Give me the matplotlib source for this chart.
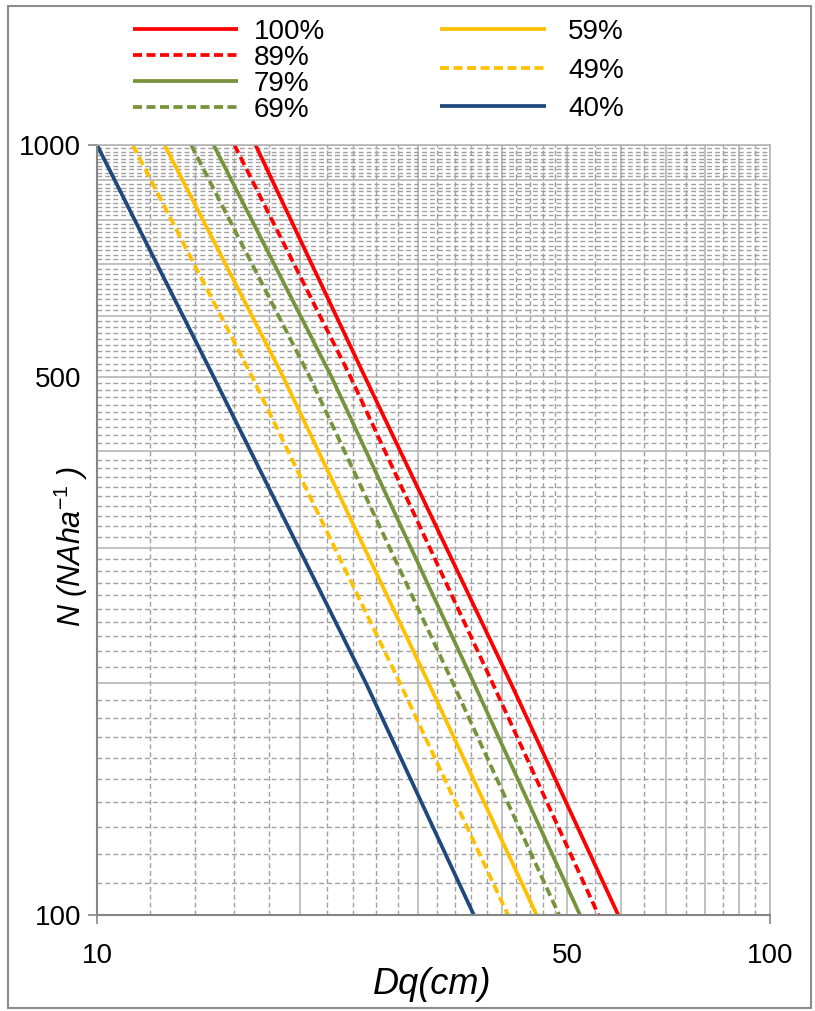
import numpy as np
import matplotlib
matplotlib.use("Agg")
import matplotlib.pyplot as plt
from matplotlib.patches import Rectangle
from matplotlib.ticker import NullFormatter

plt.rcParams['font.family'] = ['Liberation Sans', 'DejaVu Sans']
plt.rcParams['mathtext.fontset'] = 'custom'
plt.rcParams['mathtext.it'] = 'Liberation Sans:italic'
plt.rcParams['mathtext.rm'] = 'Liberation Sans'
plt.rcParams['mathtext.default'] = 'it'

# stand density N (trees/ha) where each curve was read
n_levels = [1000, 500, 200, 100]

# quadratic mean diameter (cm) of each density-index curve at those N
dq_100 = [17.2, 25.0, 41.2, 59.5]
dq_89 = [16.0, 23.8, 38.7, 55.6]
dq_79 = [14.9, 22.3, 36.3, 52.2]
dq_69 = [13.8, 20.7, 33.8, 48.6]
dq_59 = [12.6, 18.9, 31.1, 45.0]
dq_49 = [11.3, 17.0, 28.2, 40.8]
dq_40 = [10.0, 14.9, 25.1, 36.3]

labels = ["100%", "89%", "79%", "69%", "59%", "49%", "40%"]
colors = ["#FF0000", "#FF0000", "#77933C", "#77933C", "#FFC000", "#FFC000", "#1F497D"]
dashed = [False, True, False, True, False, True, False]
series = [dq_100, dq_89, dq_79, dq_69, dq_59, dq_49, dq_40]

x_major = [10, 20, 30, 40, 50, 60, 70, 80, 90, 100]
x_minor = [12, 14, 16, 18, 22, 24, 26, 28, 32, 34, 36, 38, 42, 44, 46, 48,
           55, 65, 75, 85, 95]
x_labelled = {10: "10", 50: "50", 100: "100"}
y_major = [100, 200, 300, 400, 500, 600, 700, 800, 900, 1000]
y_minor = [v for v in range(110, 1000, 10) if v % 100 != 0]
y_labelled = {100: "100", 500: "500", 1000: "1000"}

fig = plt.figure(figsize=(8.15, 10.11), dpi=100)
ax = fig.add_axes([0.119, 0.095, 0.8258, 0.7617])

handles = []
for dq, lab, c, d in zip(series, labels, colors, dashed):
    ln, = ax.plot(dq, n_levels, color=c, lw=2.7, label=lab, solid_capstyle='butt')
    if d:
        ln.set_linestyle((0, (2.4, 1.2)))
    handles.append(ln)

ax.set_xscale('log')
ax.set_yscale('log')
ax.set_xlim(10, 100)
ax.set_ylim(100, 1000)

ax.set_xticks(x_major)
ax.set_xticklabels([x_labelled.get(v, "") for v in x_major])
ax.set_xticks(x_minor, minor=True)
ax.xaxis.set_minor_formatter(NullFormatter())
ax.set_yticks(y_major)
ax.set_yticklabels([y_labelled.get(v, "") for v in y_major])
ax.set_yticks(y_minor, minor=True)
ax.yaxis.set_minor_formatter(NullFormatter())

ax.tick_params(which='major', length=6.5, width=1.2, color='#868686', labelsize=20)
ax.tick_params(axis='x', which='major', pad=14)
ax.tick_params(axis='y', which='major', pad=5)
ax.tick_params(which='minor', length=0)
for t, v in zip(ax.xaxis.get_major_ticks(), x_major):
    t.tick1line.set_visible(v in (10, 100))
for t, v in zip(ax.yaxis.get_major_ticks(), y_major):
    t.tick1line.set_visible(v in (100, 1000))

ax.grid(which='major', color='#B0B0B0', lw=1.1, ls='-')
ax.grid(which='minor', color='#A0A0A0', lw=1.0, ls=(0, (3.5, 2.2)))
ax.set_axisbelow(True)

for s in ['left', 'bottom']:
    ax.spines[s].set_color('#868686')
    ax.spines[s].set_linewidth(1.5)
for s in ['top', 'right']:
    ax.spines[s].set_color('#B0B0B0')
    ax.spines[s].set_linewidth(1.1)

ax.set_xlabel("Dq(cm)", fontsize=26, fontstyle='italic')
ax.xaxis.set_label_coords(0.498, -0.068)
ax.set_ylabel("N (NAha$^{-1}$ )", fontsize=22, fontstyle='italic')
ax.yaxis.set_label_coords(-0.01, 0.478)

leg1 = fig.legend(handles[:4], labels[:4], loc='upper left',
                  bbox_to_anchor=(0.163, 0.981), frameon=False, fontsize=20,
                  handlelength=3.8, handletextpad=0.55, labelspacing=0.0,
                  borderpad=0, borderaxespad=0)
leg2 = fig.legend(handles[4:], labels[4:], loc='upper left',
                  bbox_to_anchor=(0.54, 0.981), frameon=False, fontsize=20,
                  handlelength=3.8, handletextpad=0.8, labelspacing=0.45,
                  borderpad=0, borderaxespad=0)

fig.add_artist(Rectangle((0.0095, 0.003), 0.985, 0.991, transform=fig.transFigure,
                         fill=False, edgecolor='#8C8C8C', lw=1.5))

fig.savefig("out.png", dpi=100)
